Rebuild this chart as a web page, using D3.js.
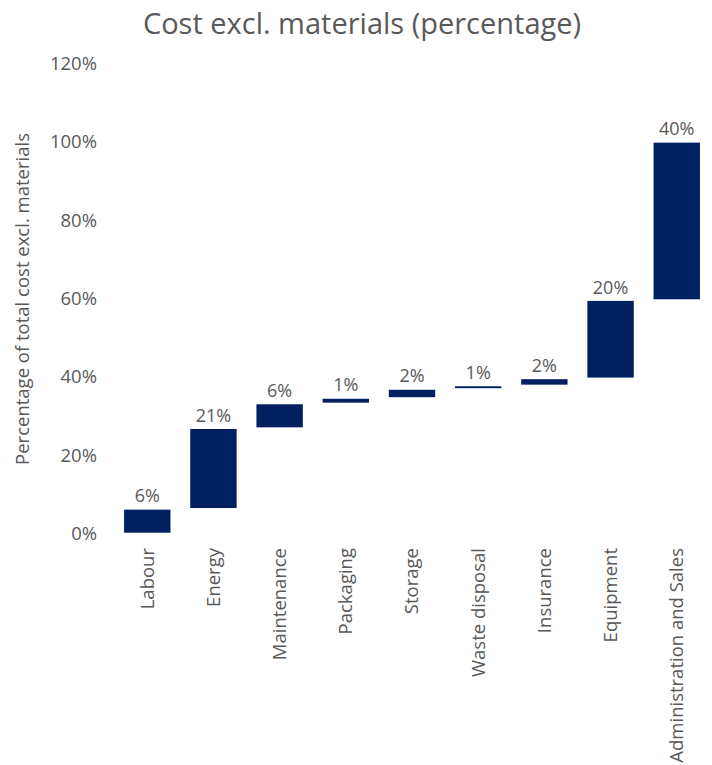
<!DOCTYPE html>
<html>
<head>
<meta charset="utf-8">
<script src="https://cdn.jsdelivr.net/npm/d3@7"></script>
<style>
  html, body { margin: 0; padding: 0; background: #fff; }
  svg { display: block; }
  text { font-family: "Open Sans", sans-serif; fill: #595959; }
</style>
</head>
<body>
<svg id="chart" width="712" height="765"></svg>
<script>
// Cost components as a share of total cost excluding materials (%)
const categories = ["Labour", "Energy", "Maintenance", "Packaging", "Storage",
                    "Waste disposal", "Insurance", "Equipment", "Administration and Sales"];
const shares = [6.3, 20.6, 6.3, 1.4, 2.3, 0.9, 1.8, 20.0, 40.4];
const valueLabels = ["6%", "21%", "6%", "1%", "2%", "1%", "2%", "20%", "40%"];
const yTicks = [0, 20, 40, 60, 80, 100, 120];

// Running totals give each floating bar its start and end
let running = 0;
const steps = shares.map((v, i) => {
  const start = running;
  running += v;
  return { name: categories[i], start, end: running, label: valueLabels[i] };
});

const svg = d3.select("#chart");

const x = d3.scaleBand()
  .domain(categories)
  .range([114, 710])
  .paddingInner(0.275)
  .paddingOuter(0.14);

const y = d3.scaleLinear()
  .domain([0, 120])
  .range([533.5, 63.5]);

// Title
svg.append("text")
  .attr("x", 362)
  .attr("y", 34)
  .attr("text-anchor", "middle")
  .style("font-size", "29px")
  .text("Cost excl. materials (percentage)");

// Y axis (labels only)
const yAxis = d3.axisLeft(y)
  .tickValues(yTicks)
  .tickFormat(d => d + "%")
  .tickSize(0)
  .tickPadding(0);

const gy = svg.append("g")
  .attr("transform", "translate(97,0)")
  .call(yAxis);
gy.select(".domain").remove();
gy.selectAll("text")
  .style("font-size", "18.5px")
  .style("font-family", "'Open Sans', sans-serif")
  .attr("fill", "#595959");

// Y axis title
svg.append("text")
  .attr("transform", "translate(29,299) rotate(-90)")
  .attr("text-anchor", "middle")
  .style("font-size", "18.5px")
  .text("Percentage of total cost excl. materials");

// X axis (rotated category labels)
const xAxis = d3.axisBottom(x).tickSize(0).tickPadding(0);
const gx = svg.append("g")
  .attr("transform", "translate(0,546)")
  .call(xAxis);
gx.select(".domain").remove();
gx.selectAll("text")
  .attr("transform", "rotate(-90)")
  .attr("text-anchor", "end")
  .attr("x", -2)
  .attr("y", 0)
  .attr("dy", "0.35em")
  .style("font-size", "18.5px")
  .style("font-family", "'Open Sans', sans-serif")
  .attr("fill", "#595959");

// Floating bars
svg.append("g")
  .selectAll("rect")
  .data(steps)
  .join("rect")
  .attr("x", d => x(d.name))
  .attr("width", x.bandwidth())
  .attr("y", d => y(d.end))
  .attr("height", d => y(d.start) - y(d.end))
  .attr("fill", "#002060")
  .attr("stroke", "#ffffff")
  .attr("stroke-width", 1.6);

// Value labels above each bar
svg.append("g")
  .selectAll("text")
  .data(steps)
  .join("text")
  .attr("x", d => x(d.name) + x.bandwidth() / 2)
  .attr("y", d => y(d.end) - 6.5)
  .attr("text-anchor", "middle")
  .style("font-size", "18px")
  .text(d => d.label);
</script>
</body>
</html>
